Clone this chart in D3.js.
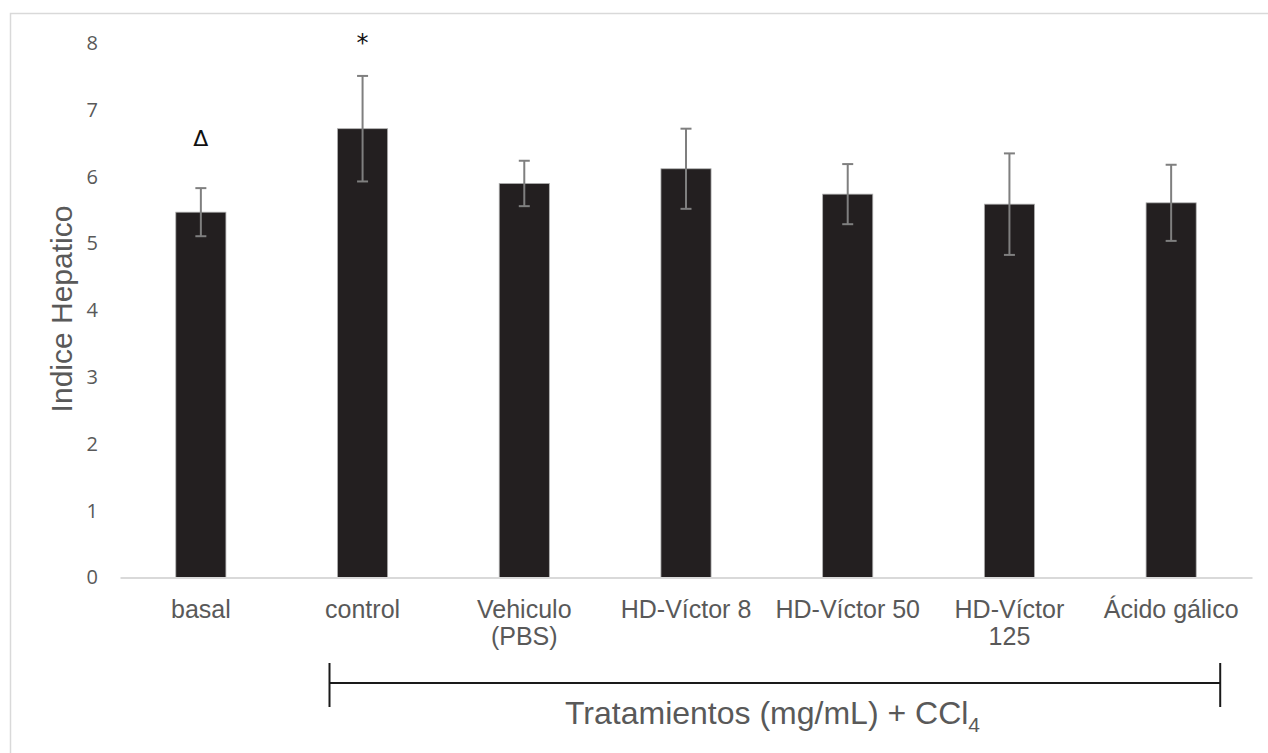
<!DOCTYPE html>
<html>
<head>
<meta charset="utf-8">
<script src="https://cdn.jsdelivr.net/npm/d3@7"></script>
<style>
  html, body { margin: 0; padding: 0; background: #fff; }
  svg { display: block; }
</style>
</head>
<body>
<svg id="chart" width="1268" height="753"></svg>
<script>
// ---- data ----
const categories = ["basal", "control", "Vehiculo (PBS)", "HD-Víctor 8", "HD-Víctor 50", "HD-Víctor 125", "Ácido gálico"];
const categoryLines = [["basal"], ["control"], ["Vehiculo", "(PBS)"], ["HD-Víctor 8"], ["HD-Víctor 50"], ["HD-Víctor", "125"], ["Ácido gálico"]];
const values = [5.47, 6.72, 5.90, 6.12, 5.74, 5.59, 5.61];
const errors = [0.36, 0.79, 0.34, 0.60, 0.45, 0.76, 0.57];
const yTicks = [0, 1, 2, 3, 4, 5, 6, 7, 8];
const markers = [{ cat: "basal", text: "Δ" }, { cat: "control", text: "*" }];
const yTitle = "Indice Hepatico";
const bracketFrom = "control", bracketTo = "Ácido gálico";

// ---- layout ----
const svg = d3.select("#chart");
const plotLeft = 120, plotRight = 1252, plotTop = 43.2, plotBottom = 577.5;

svg.append("rect")
  .attr("x", 10.5).attr("y", 13.5).attr("width", 1400).attr("height", 900)
  .attr("fill", "none").attr("stroke", "#d9d9d9").attr("stroke-width", 1.5);

const x = d3.scaleBand().domain(categories).range([plotLeft, plotRight])
  .paddingInner(0.69).paddingOuter(0.345);
const y = d3.scaleLinear().domain([0, 8]).range([plotBottom, plotTop]);

// y axis
const yAxis = svg.append("g").attr("transform", `translate(${plotLeft},0)`)
  .call(d3.axisLeft(y).tickValues(yTicks).tickSize(0).tickPadding(22));
yAxis.select(".domain").remove();
yAxis.selectAll("text")
  .attr("font-family", "'Open Sans', sans-serif").attr("font-size", 20)
  .attr("fill", "#595959");

// bars
svg.append("g").selectAll("rect").data(categories).join("rect")
  .attr("x", d => x(d)).attr("width", x.bandwidth())
  .attr("y", (d, i) => y(values[i])).attr("height", (d, i) => y(0) - y(values[i]))
  .attr("fill", "#231f20").attr("stroke", "#b0b0b0").attr("stroke-width", 0.8);

// x axis
const xAxis = svg.append("g").attr("transform", `translate(0,${plotBottom})`)
  .call(d3.axisBottom(x).tickSize(0).tickPadding(0).tickFormat(""));
xAxis.select(".domain").attr("stroke", "#d9d9d9").attr("stroke-width", 2);
xAxis.selectAll(".tick").each(function (d, i) {
  const t = d3.select(this).select("text")
    .attr("y", 0).attr("dy", null)
    .attr("font-family", "'Liberation Sans', Arial, sans-serif")
    .attr("font-size", 25).attr("fill", "#595959").attr("text-anchor", "middle");
  categoryLines[i].forEach((line, k) => {
    t.append("tspan").attr("x", 0).attr("y", 40 + k * 27).text(line);
  });
});

// error bars
const eg = svg.append("g").attr("stroke", "#7f7f7f").attr("stroke-width", 2);
categories.forEach((c, i) => {
  const cx = x(c) + x.bandwidth() / 2;
  const hi = y(values[i] + errors[i]), lo = y(values[i] - errors[i]);
  eg.append("line").attr("x1", cx).attr("x2", cx).attr("y1", hi).attr("y2", lo);
  eg.append("line").attr("x1", cx - 5.5).attr("x2", cx + 5.5).attr("y1", hi).attr("y2", hi);
  eg.append("line").attr("x1", cx - 5.5).attr("x2", cx + 5.5).attr("y1", lo).attr("y2", lo);
});

// significance markers
svg.append("g").selectAll("text").data(markers).join("text")
  .attr("x", d => x(d.cat) + x.bandwidth() / 2)
  .attr("y", d => {
    const i = categories.indexOf(d.cat);
    return d.text === "*" ? y(values[i] + errors[i]) - 25 : y(values[i] + errors[i]) - 42;
  })
  .attr("text-anchor", "middle")
  .attr("font-family", "'DejaVu Sans', sans-serif")
  .attr("font-size", d => d.text === "*" ? 24 : 22)
  .attr("fill", "#111")
  .text(d => d.text);

// y title
svg.append("text")
  .attr("transform", `translate(72,309) rotate(-90)`)
  .attr("text-anchor", "middle")
  .attr("font-family", "'Liberation Sans', Arial, sans-serif")
  .attr("font-size", 30).attr("fill", "#595959")
  .text(yTitle);

// bracket
const bx1 = x(bracketFrom) - 8, bx2 = x(bracketTo) + x.bandwidth() + 24;
const by = 683;
const bg = svg.append("g").attr("stroke", "#1a1a1a").attr("stroke-width", 2);
bg.append("line").attr("x1", bx1).attr("x2", bx2).attr("y1", by).attr("y2", by);
bg.append("line").attr("x1", bx1).attr("x2", bx1).attr("y1", by - 20).attr("y2", by + 24);
bg.append("line").attr("x1", bx2).attr("x2", bx2).attr("y1", by - 20).attr("y2", by + 24);

// bracket title
const tt = svg.append("text")
  .attr("x", 565).attr("y", 724)
  .attr("font-family", "'Liberation Sans', Arial, sans-serif")
  .attr("font-size", 32).attr("fill", "#595959");
tt.append("tspan").text("Tratamientos (mg/mL) + CCl");
tt.append("tspan").attr("font-size", 21).attr("dy", 8).text("4");
</script>
</body>
</html>
